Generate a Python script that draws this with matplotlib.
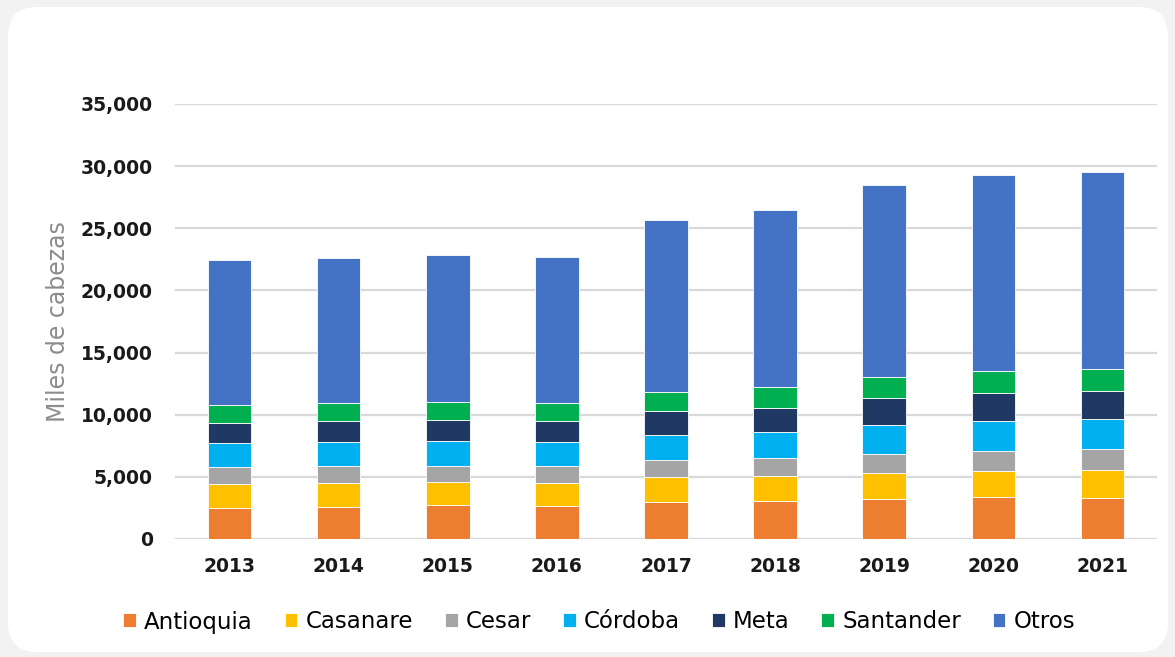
import matplotlib
matplotlib.use("Agg")
import matplotlib.pyplot as plt
import numpy as np
from matplotlib.patches import FancyBboxPatch

years = ["2013", "2014", "2015", "2016", "2017", "2018", "2019", "2020", "2021"]
series_names = ["Antioquia", "Casanare", "Cesar", "Córdoba", "Meta", "Santander", "Otros"]
antioquia = [2520, 2550, 2740, 2630, 3000, 3080, 3220, 3350, 3320]
casanare = [1880, 1930, 1850, 1870, 1960, 2010, 2090, 2150, 2230]
cesar = [1420, 1390, 1310, 1370, 1370, 1430, 1550, 1610, 1720]
cordoba = [1930, 1960, 2010, 1930, 2040, 2110, 2290, 2410, 2390]
meta = [1610, 1660, 1670, 1670, 1900, 1930, 2170, 2200, 2270]
santander = [1400, 1430, 1440, 1450, 1530, 1640, 1690, 1800, 1750]
otros = [11690, 11690, 11830, 11770, 13870, 14270, 15470, 15770, 15850]

colors = ["#ED7D31", "#FFC000", "#A5A5A5", "#00B0F0", "#203864", "#00B050", "#4472C4"]
data = [antioquia, casanare, cesar, cordoba, meta, santander, otros]

W, H = 1175, 657
fig = plt.figure(figsize=(W / 100, H / 100), dpi=100)
fig.patch.set_facecolor("#F2F2F2")
card = FancyBboxPatch((8 / W, 5 / H), 1160 / W, 645 / H,
                      boxstyle="round,pad=0,rounding_size=0.025",
                      transform=fig.transFigure, facecolor="white",
                      edgecolor="none", zorder=-10, mutation_aspect=W / H)
fig.patches.append(card)

ax = fig.add_axes([175 / W, 1 - 539 / H, (1157 - 175) / W, (539 - 104) / H])
ax.set_zorder(1)
ax.set_facecolor("none")
x = np.arange(len(years))
bottom = np.zeros(len(years))
for name, vals, c in zip(series_names, data, colors):
    ax.bar(x, vals, width=0.4, bottom=bottom, color=c, label=name,
           edgecolor="white", linewidth=0.6, zorder=3)
    bottom += np.array(vals)

ax.set_xlim(-0.5, len(years) - 0.5)
ax.set_ylim(0, 35000)
ax.set_yticks(np.arange(0, 35001, 5000))
ax.set_yticklabels([f"{v:,}" for v in range(0, 35001, 5000)],
                   fontsize=13.5, fontweight="bold", color="#1a1a1a")
ax.set_xticks(x)
ax.set_xticklabels(years, fontsize=13.5, fontweight="bold", color="#1a1a1a")
ax.tick_params(axis="both", length=0)
ax.tick_params(axis="y", pad=16)
ax.tick_params(axis="x", pad=13)
ax.grid(axis="y", color="#D9D9D9", linewidth=1.6, zorder=0)
for s in ax.spines.values():
    s.set_visible(False)
ax.set_ylabel("Miles de cabezas", fontsize=17, color="#8C8C8C", labelpad=8)

handles, labels = ax.get_legend_handles_labels()
fig.legend(handles, labels, loc="center", bbox_to_anchor=(0.51, 1 - 622 / H),
           ncol=7, frameon=False, fontsize=16.5, handlelength=0.55,
           handleheight=0.55, handletextpad=0.35, columnspacing=1.4)

fig.savefig("out.png", dpi=100, facecolor=fig.get_facecolor())
